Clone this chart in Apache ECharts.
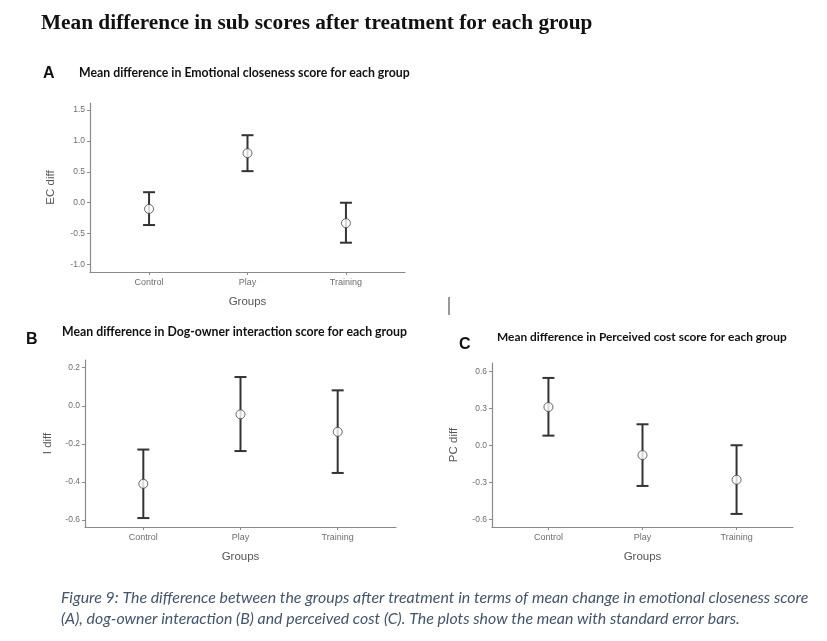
<!DOCTYPE html>
<html><head><meta charset="utf-8">
<script src="https://cdn.jsdelivr.net/npm/echarts@6/dist/echarts.min.js"></script>
<style>html,body{margin:0;padding:0;background:#fff;}#c{width:827px;height:641px;}</style>
</head><body><div id="c"></div>
<script>
const categories = ['Control', 'Play', 'Training'];
// Panel A: Emotional closeness
const ecMean = [-0.10, 0.80, -0.33];
const ecLow  = [-0.36, 0.51, -0.645];
const ecHigh = [0.17, 1.09, 0.0];
const ecTicks = [-1.0, -0.5, 0.0, 0.5, 1.0, 1.5];
// Panel B: Dog-owner interaction
const iMean = [-0.41, -0.045, -0.137];
const iLow  = [-0.59, -0.238, -0.353];
const iHigh = [-0.23, 0.151, 0.081];
const iTicks = [-0.6, -0.4, -0.2, 0.0, 0.2];
// Panel C: Perceived cost
const pcMean = [0.31, -0.08, -0.28];
const pcLow  = [0.078, -0.33, -0.557];
const pcHigh = [0.546, 0.17, 0.0];
const pcTicks = [-0.6, -0.3, 0.0, 0.3, 0.6];

const catPos = [1, 2, 3];
const tickGray = '#6e6e6e';
const axisGray = '#8a8a8a';
const barColor = '#333333';
const sans = 'Liberation Sans, Arial, sans-serif';

function xAx(gi) {
  return {
    type: 'value', gridIndex: gi, min: 0.4, max: 3.6,
    splitLine: {show: false},
    axisLine: {show: true, onZero: false, lineStyle: {color: axisGray, width: 1.2}},
    axisTick: {show: true, customValues: catPos, length: 3, lineStyle: {color: axisGray}},
    axisLabel: {show: true, customValues: catPos, margin: 6, color: tickGray, fontSize: 9, fontFamily: sans,
      formatter: v => categories[Math.round(v) - 1] || ''},
    name: 'Groups', nameLocation: 'middle', nameGap: 24,
    nameTextStyle: {color: '#555', fontSize: 11.5, fontFamily: sans}
  };
}
function yAx(gi, min, max, ticks, name, gap) {
  return {
    type: 'value', gridIndex: gi, min: min, max: max,
    splitLine: {show: false},
    axisLine: {show: true, onZero: false, lineStyle: {color: axisGray, width: 1.2}},
    axisTick: {show: true, customValues: ticks, length: 3, lineStyle: {color: axisGray}},
    axisLabel: {show: true, customValues: ticks, margin: 5, color: tickGray, fontSize: 8.5, fontFamily: sans,
      formatter: v => Number(v).toFixed(1)},
    name: name, nameLocation: 'middle', nameGap: gap, nameRotate: 90,
    nameTextStyle: {color: '#555', fontSize: 11.5, fontFamily: sans}
  };
}
function errData(low, high) { return catPos.map((x, i) => [x, low[i], high[i]]); }
function meanData(m) { return catPos.map((x, i) => [x, m[i]]); }
function errSeries(gi, low, high) {
  return {
    type: 'custom', xAxisIndex: gi, yAxisIndex: gi, data: errData(low, high), z: 2,
    renderItem: function (params, api) {
      const lo = api.coord([api.value(0), api.value(1)]);
      const hi = api.coord([api.value(0), api.value(2)]);
      const hw = 6;
      const st = {stroke: barColor, lineWidth: 2};
      return {type: 'group', children: [
        {type: 'line', shape: {x1: lo[0], y1: lo[1], x2: hi[0], y2: hi[1]}, style: st},
        {type: 'line', shape: {x1: lo[0] - hw, y1: lo[1], x2: lo[0] + hw, y2: lo[1]}, style: st},
        {type: 'line', shape: {x1: hi[0] - hw, y1: hi[1], x2: hi[0] + hw, y2: hi[1]}, style: st}
      ]};
    }
  };
}
function meanSeries(gi, m) {
  return {type: 'scatter', xAxisIndex: gi, yAxisIndex: gi, data: meanData(m), z: 3,
    symbol: 'circle', symbolSize: 9,
    itemStyle: {color: '#ffffff', borderColor: '#444', borderWidth: 1}};
}

const chart = echarts.init(document.getElementById('c'), null, {renderer: 'canvas'});
chart.setOption({
  animation: false,
  backgroundColor: '#ffffff',
  grid: [
    {left: 90, top: 103, width: 315, height: 169},
    {left: 85, top: 360, width: 311, height: 167},
    {left: 492, top: 363, width: 301, height: 164}
  ],
  xAxis: [xAx(0), xAx(1), xAx(2)],
  yAxis: [
    yAx(0, -1.118, 1.61, ecTicks, 'EC diff', 33),
    yAx(1, -0.637, 0.2405, iTicks, 'I diff', 31),
    yAx(2, -0.663, 0.667, pcTicks, 'PC diff', 32)
  ],
  series: [
    errSeries(0, ecLow, ecHigh), meanSeries(0, ecMean),
    errSeries(1, iLow, iHigh), meanSeries(1, iMean),
    errSeries(2, pcLow, pcHigh), meanSeries(2, pcMean)
  ],
  graphic: [
    {type: 'text', left: 41, top: 13, style: {text: 'Mean difference in sub scores after treatment for each group',
      font: 'bold 21.3px "Liberation Serif", "Times New Roman", serif', fill: '#111'}},
    {type: 'text', left: 43, top: 66, style: {text: 'A', font: 'bold 16px "Liberation Sans", Arial, sans-serif', fill: '#111'}},
    {type: 'text', left: 79, top: 67, style: {text: 'Mean difference in Emotional closeness score for each group',
      font: 'bold 12.3px Lato, "Noto Sans", sans-serif', fill: '#111'}},
    {type: 'text', left: 26, top: 332, style: {text: 'B', font: 'bold 16px "Liberation Sans", Arial, sans-serif', fill: '#111'}},
    {type: 'text', left: 62, top: 326, style: {text: 'Mean difference in Dog-owner interaction score for each group',
      font: 'bold 12.3px Lato, "Noto Sans", sans-serif', fill: '#111'}},
    {type: 'text', left: 459, top: 337, style: {text: 'C', font: 'bold 16px "Liberation Sans", Arial, sans-serif', fill: '#111'}},
    {type: 'text', left: 497, top: 331, style: {text: 'Mean difference in Perceived cost score for each group',
      font: 'bold 11.9px Lato, "Noto Sans", sans-serif', fill: '#111'}},
    {type: 'line', shape: {x1: 449, y1: 297, x2: 449, y2: 315}, style: {stroke: '#777', lineWidth: 1.5}},
    {type: 'text', left: 61, top: 590, style: {text: 'Figure 9: The difference between the groups after treatment in terms of mean change in emotional closeness score',
      font: 'italic 15.9px Lato, "Open Sans", sans-serif', fill: '#44546a'}},
    {type: 'text', left: 61, top: 611, style: {text: '(A), dog-owner interaction (B) and perceived cost (C). The plots show the mean with standard error bars.',
      font: 'italic 15.9px Lato, "Open Sans", sans-serif', fill: '#44546a'}}
  ]
});
</script>
</body></html>
